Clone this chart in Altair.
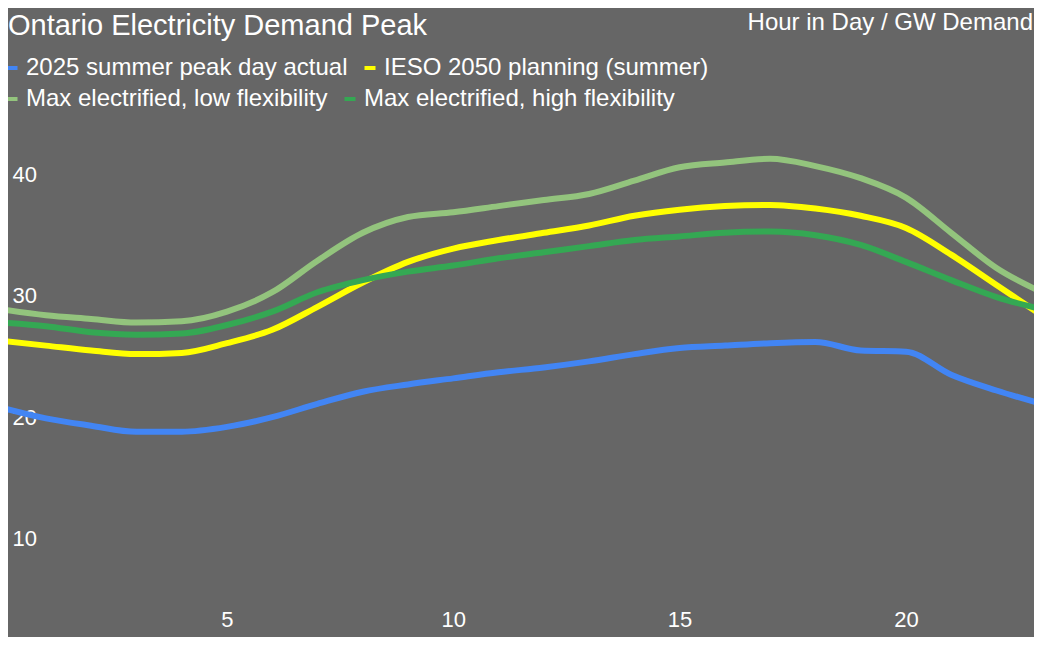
import altair as alt
import pandas as pd

hours = list(range(24))
series_names = [
    "2025 summer peak day actual",
    "IESO 2050 planning (summer)",
    "Max electrified, low flexibility",
    "Max electrified, high flexibility",
]
actual_2025 = [20.8, 19.9, 19.3, 18.8, 18.8, 19.2, 20.0, 21.1, 22.1, 22.7, 23.2, 23.7,
               24.1, 24.6, 25.2, 25.7, 25.9, 26.1, 26.2, 25.5, 25.4, 23.5, 22.2, 21.1]
ieso_2050 = [26.3, 25.9, 25.5, 25.2, 25.3, 26.1, 27.2, 29.1, 31.1, 32.8, 33.9, 34.6,
             35.2, 35.8, 36.6, 37.1, 37.4, 37.5, 37.2, 36.6, 35.6, 33.4, 30.9, 28.4]
low_flex = [28.9, 28.4, 28.1, 27.8, 27.9, 28.7, 30.3, 32.9, 35.2, 36.5, 36.9, 37.4,
            37.9, 38.4, 39.5, 40.6, 41.0, 41.3, 40.7, 39.7, 38.1, 35.2, 32.3, 30.3]
high_flex = [27.8, 27.5, 27.0, 26.8, 26.9, 27.6, 28.7, 30.3, 31.3, 32.0, 32.5, 33.1,
             33.6, 34.1, 34.6, 34.9, 35.2, 35.3, 35.0, 34.2, 32.8, 31.3, 29.9, 28.9]
colors = ["#4285F4", "#FFFF00", "#93C47D", "#34A853"]
y_ticks = [10, 20, 30, 40]
x_ticks = [5, 10, 15, 20]
title_text = "Ontario Electricity Demand Peak"
corner_text = "Hour in Day / GW Demand"

FONT = "Liberation Sans, Arial, sans-serif"

rows = []
for name, vals in zip(series_names, [actual_2025, ieso_2050, low_flex, high_flex]):
    for h, v in zip(hours, vals):
        rows.append({"hour": h, "gw": v, "series": name})
df = pd.DataFrame(rows)

W, H = 1026, 629

x_enc = alt.X("hour:Q",
              scale=alt.Scale(domain=[0.162, 22.83], nice=False, zero=False),
              axis=alt.Axis(values=x_ticks, title=None, orient="bottom", offset=-18,
                            labelBaseline="middle", labelPadding=0, ticks=False,
                            domain=False, grid=False, labelFontSize=22,
                            labelColor="#ffffff", labelFont=FONT))
y_enc = alt.Y("gw:Q",
              scale=alt.Scale(domain=[1.88, 53.73], nice=False, zero=False),
              axis=alt.Axis(values=y_ticks, title=None, orient="left", offset=-4,
                            labelAlign="left", labelBaseline="middle", labelPadding=0,
                            ticks=False, domain=False, grid=False, labelFontSize=22,
                            labelColor="#ffffff", labelFont=FONT))


def legend_row(y):
    return alt.Legend(title=None, orient="none", legendX=-8, legendY=y,
                      direction="horizontal", columnPadding=8,
                      symbolType="stroke", symbolSize=121,
                      symbolStrokeWidth=4, labelOffset=2,
                      labelFontSize=24, labelColor="#ffffff",
                      labelFont=FONT, labelLimit=600, padding=0)


def series_layer(names, cols, legend_y):
    sub = df[df["series"].isin(names)]
    return alt.Chart(sub).mark_line(strokeWidth=6, interpolate="monotone", clip=True).encode(
        x=x_enc,
        y=y_enc,
        color=alt.Color("series:N",
                        scale=alt.Scale(domain=names, range=cols),
                        sort=names,
                        legend=legend_row(legend_y)),
    )


row1 = series_layer(series_names[:2], colors[:2], 48)
row2 = series_layer(series_names[2:], colors[2:], 79)

title = alt.Chart(pd.DataFrame({"t": [title_text]})).mark_text(
    align="left", baseline="alphabetic", fontSize=29, font=FONT, color="#ffffff"
).encode(text="t:N", x=alt.value(0), y=alt.value(27))

corner = alt.Chart(pd.DataFrame({"t": [corner_text]})).mark_text(
    align="right", baseline="alphabetic", fontSize=24, font=FONT, color="#ffffff"
).encode(text="t:N", x=alt.value(W - 1), y=alt.value(22))

chart = alt.layer(row1, row2, title, corner).resolve_scale(color="independent").properties(
    width=W, height=H,
    autosize=alt.AutoSizeParams(type="none"),
    padding=0,
).configure(background="#666666").configure_view(stroke=None)

chart.save("out.html", embed_options={"renderer": "svg", "actions": False})
